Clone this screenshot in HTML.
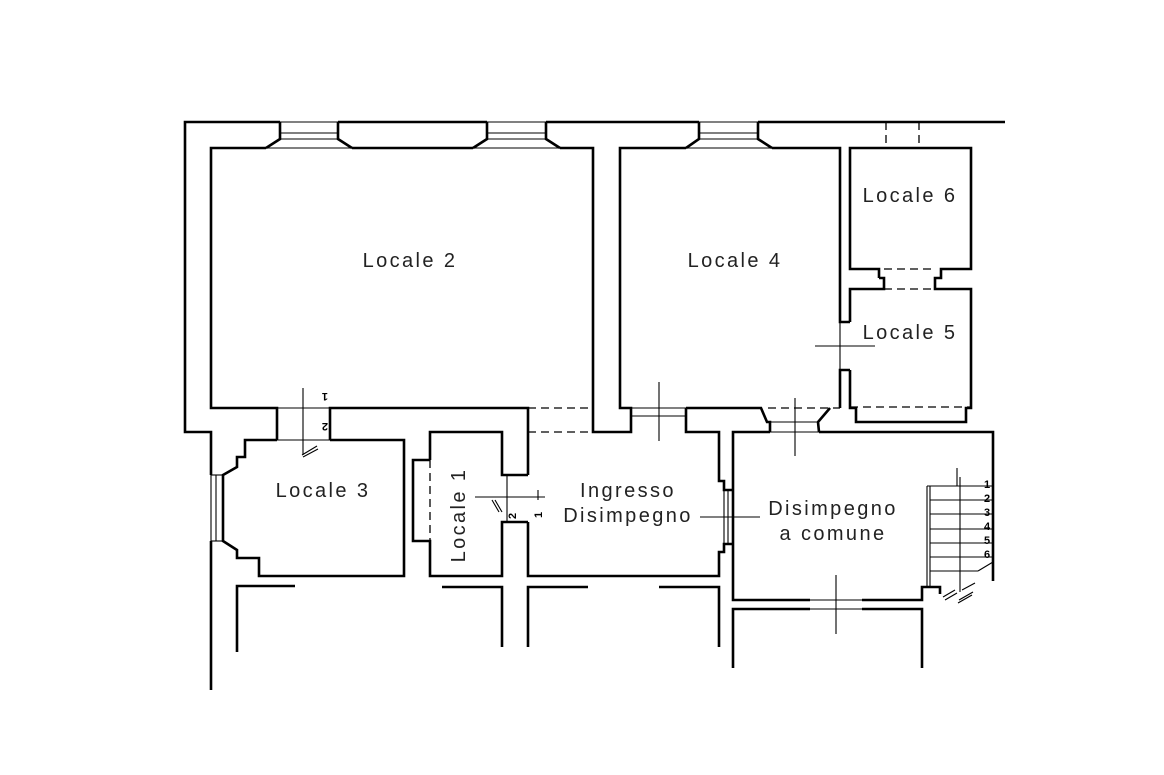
<!DOCTYPE html>
<html><head><meta charset="utf-8"><style>
html,body{margin:0;padding:0;background:#fff}
svg{display:block}
text{font-family:"Liberation Sans",sans-serif;font-size:20px;fill:#222;letter-spacing:2.4px}
.w{fill:none;stroke:#000;stroke-width:2.6;stroke-linejoin:miter}
.t{fill:none;stroke:#000;stroke-width:1.1}
.d{fill:none;stroke:#000;stroke-width:1.3;stroke-dasharray:8,5}
.n{font-size:11px;font-weight:bold;fill:#000;letter-spacing:0}
</style></head><body>
<svg width="1164" height="775" viewBox="0 0 1164 775">
<polyline class="w" points="211,690 211,541"/>
<polyline class="w" points="211,475 211,432 185,432 185,122 280,122"/>
<line class="w" x1="338" y1="122" x2="487" y2="122"/>
<line class="w" x1="546" y1="122" x2="699" y2="122"/>
<line class="w" x1="758" y1="122" x2="1005" y2="122"/>
<g class="t">
<line x1="280" y1="122" x2="338" y2="122"/><line x1="280" y1="133" x2="338" y2="133"/><line x1="280" y1="139" x2="338" y2="139"/>
<line x1="487" y1="122" x2="546" y2="122"/><line x1="487" y1="133" x2="546" y2="133"/><line x1="487" y1="139" x2="546" y2="139"/>
<line x1="699" y1="122" x2="758" y2="122"/><line x1="699" y1="133" x2="758" y2="133"/><line x1="699" y1="139" x2="758" y2="139"/>
<line x1="266" y1="148" x2="352" y2="148"/><line x1="473" y1="148" x2="560" y2="148"/><line x1="686" y1="148" x2="772" y2="148"/>
</g>
<polyline class="w" points="280,122 280,139 266,148"/><polyline class="w" points="338,122 338,139 352,148"/>
<polyline class="w" points="487,122 487,139 473,148"/><polyline class="w" points="546,122 546,139 560,148"/>
<polyline class="w" points="699,122 699,139 686,148"/><polyline class="w" points="758,122 758,139 772,148"/>
<polyline class="w" points="266,148 211,148 211,408 277,408 277,440"/>
<polyline class="w" points="352,148 473,148"/>
<polyline class="w" points="560,148 593,148 593,432 631,432 631,408 620,408 620,148 686,148"/>
<polyline class="w" points="330,440 330,408 528,408 528,475"/>
<line class="d" x1="528" y1="408" x2="593" y2="408"/>
<line class="d" x1="528" y1="432" x2="593" y2="432"/>
<polyline class="w" points="772,148 840,148 840,322 850,322"/>
<polyline class="w" points="850,370 840,370 840,408"/>
<line class="t" x1="840" y1="322" x2="840" y2="370"/>
<line class="t" x1="815" y1="346" x2="875" y2="346"/>
<line class="t" x1="631" y1="408" x2="686" y2="408"/><line class="t" x1="631" y1="416" x2="686" y2="416"/>
<line class="t" x1="659" y1="382" x2="659" y2="441"/>
<polyline class="w" points="686,408 761,408 767,422 770,422 770,432"/>
<polyline class="w" points="686,408 686,432 719,432 719,481 724,481 724,490 733,490"/>
<polyline class="w" points="733,544 724,544 724,552 719,552 719,576 528,576 528,522"/>
<g class="t"><line x1="724" y1="490" x2="724" y2="544"/><line x1="728" y1="490" x2="728" y2="544"/><line x1="700" y1="517" x2="760" y2="517"/></g>
<polyline class="w" points="830,408 818,422 819,432"/>
<line class="d" x1="768" y1="408" x2="840" y2="408"/>
<line class="t" x1="767" y1="422" x2="818" y2="422"/><line class="t" x1="770" y1="432" x2="819" y2="432"/>
<line class="t" x1="795" y1="398" x2="795" y2="456"/>
<line class="d" x1="886" y1="122" x2="886" y2="148"/><line class="d" x1="919" y1="122" x2="919" y2="148"/>
<polyline class="w" points="879,278 879,269 850,269 850,148 971,148 971,269 941,269 941,278 935,278 935,289 971,289 971,408 966,408 966,422 856,422 856,408 850,408 850,370"/>
<polyline class="w" points="850,322 850,289 884,289 884,278 879,278"/>
<line class="d" x1="884" y1="269" x2="935" y2="269"/><line class="d" x1="884" y1="289" x2="935" y2="289"/>
<line class="d" x1="850" y1="407" x2="971" y2="407"/>
<polyline class="w" points="770,432 733,432 733,600 810,600"/>
<polyline class="w" points="819,432 993,432 993,581"/>
<polyline class="w" points="862,600 922,600 922,587 940,587 940,594"/>
<g class="t"><line x1="810" y1="600" x2="862" y2="600"/><line x1="810" y1="609" x2="862" y2="609"/><line x1="836" y1="575" x2="836" y2="634"/></g>
<polyline class="w" points="733,668 733,609 810,609"/>
<polyline class="w" points="862,609 922,609 922,668"/>
<g class="t">
<line x1="927" y1="486" x2="927" y2="587"/><line x1="930" y1="486" x2="930" y2="587"/>
<line x1="927" y1="486" x2="993" y2="486"/><line x1="930" y1="500" x2="993" y2="500"/><line x1="930" y1="514" x2="993" y2="514"/>
<line x1="930" y1="529" x2="993" y2="529"/><line x1="930" y1="543" x2="993" y2="543"/><line x1="930" y1="557" x2="993" y2="557"/><line x1="930" y1="571" x2="978" y2="571"/>
<line x1="960" y1="477" x2="960" y2="592"/><line x1="957" y1="468" x2="957" y2="486"/>
<line x1="943" y1="597" x2="955" y2="590"/><line x1="945" y1="600" x2="957" y2="593"/>
<line x1="962" y1="590" x2="975" y2="583"/><line x1="958" y1="603" x2="972" y2="595"/><line x1="959" y1="600" x2="973" y2="592"/>
<line x1="978" y1="571" x2="993" y2="562"/>
</g>
<text class="n" x="984" y="488">1</text><text class="n" x="984" y="502">2</text><text class="n" x="984" y="516">3</text>
<text class="n" x="984" y="530">4</text><text class="n" x="984" y="544">5</text><text class="n" x="984" y="558">6</text>
<polyline class="w" points="277,440 245,440 245,457 237,457 237,467 223,475 223,541 237,550 237,558 259,558 259,576 404,576 404,440 330,440"/>
<g class="t"><line x1="211" y1="475" x2="211" y2="541"/><line x1="216" y1="475" x2="216" y2="541"/><line x1="211" y1="475" x2="223" y2="475"/><line x1="211" y1="541" x2="223" y2="541"/>
<line x1="277" y1="408" x2="330" y2="408"/><line x1="277" y1="440" x2="330" y2="440"/>
<line x1="303" y1="388" x2="303" y2="455"/><line x1="302" y1="455" x2="317" y2="446"/><line x1="303" y1="457" x2="318" y2="449"/></g>
<text class="n" x="320" y="403" transform="rotate(180 324 398)">1</text>
<text class="n" x="318" y="433" font-size="13" transform="rotate(180 323 428)">2</text>
<polyline class="w" points="430,460 413,460 413,541 430,541 430,576 502,576 502,522 528,522"/>
<polyline class="w" points="430,460 430,432 502,432 502,475 528,475"/>
<line class="d" x1="430" y1="460" x2="430" y2="541"/>
<g class="t"><line x1="507" y1="475" x2="507" y2="522"/><line x1="475" y1="497" x2="545" y2="497"/><line x1="538" y1="490" x2="538" y2="500"/>
<line x1="492" y1="500" x2="499" y2="512"/><line x1="495" y1="500" x2="502" y2="512"/></g>
<text class="n" x="507" y="518" font-size="12" transform="rotate(-90 512 514)">2</text>
<text class="n" x="534" y="518" transform="rotate(-90 538 514)">1</text>
<polyline class="w" points="295,586 237,586 237,652"/>
<polyline class="w" points="442,587 502,587 502,647"/>
<polyline class="w" points="588,587 528,587 528,647"/>
<polyline class="w" points="659,587 719,587 719,647"/>
<text x="410" y="267" text-anchor="middle">Locale 2</text>
<text x="735" y="267" text-anchor="middle">Locale 4</text>
<text x="910" y="202" text-anchor="middle">Locale 6</text>
<text x="910" y="339" text-anchor="middle">Locale 5</text>
<text x="323" y="497" text-anchor="middle">Locale 3</text>
<text x="458" y="522" text-anchor="middle" transform="rotate(-90 458 515)">Locale 1</text>
<text x="628" y="497" text-anchor="middle">Ingresso</text>
<text x="628" y="522" text-anchor="middle">Disimpegno</text>
<text x="833" y="515" text-anchor="middle">Disimpegno</text>
<text x="833" y="540" text-anchor="middle">a comune</text>
</svg>
</body></html>
